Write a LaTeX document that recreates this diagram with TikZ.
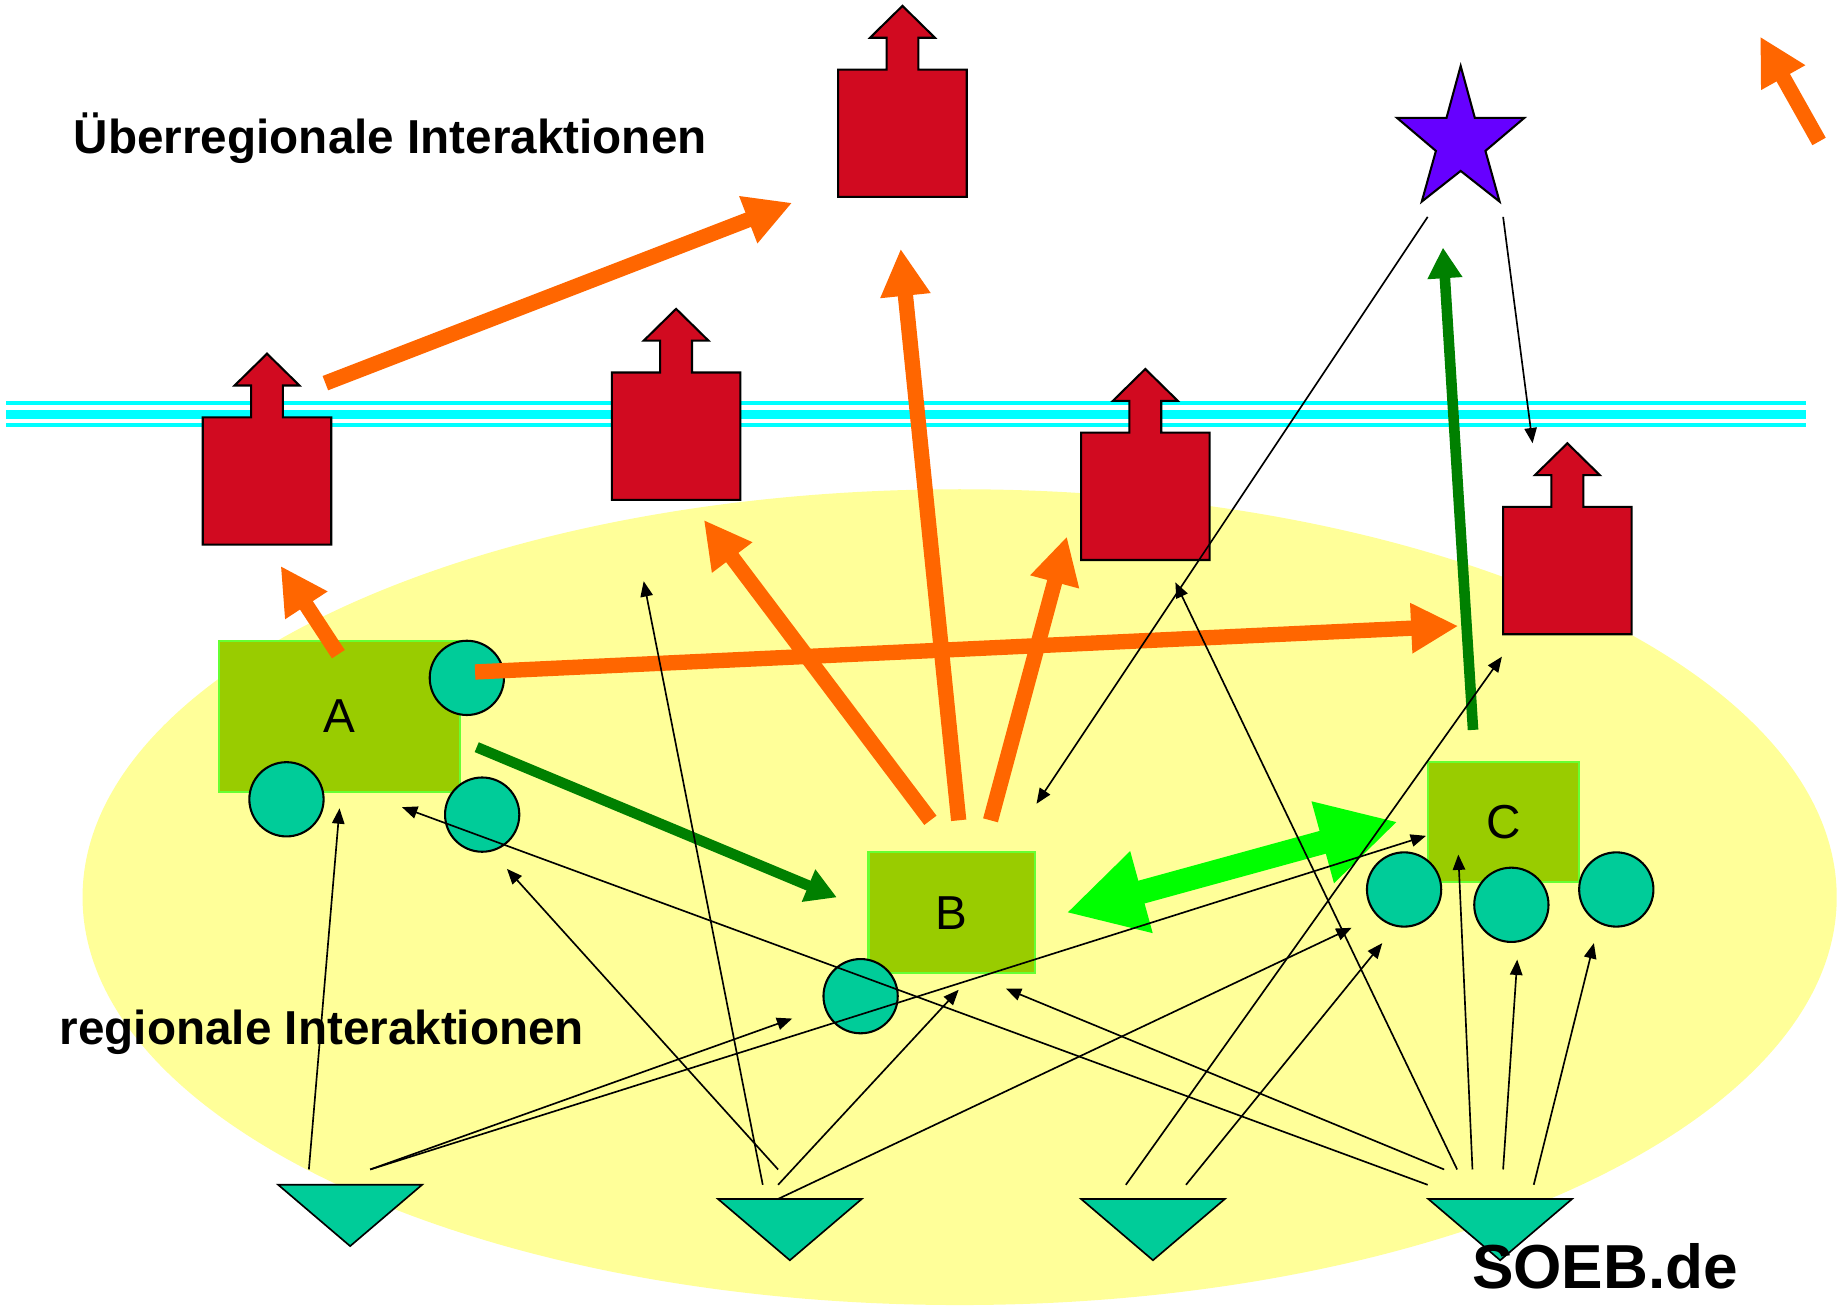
\documentclass[tikz,border=0pt]{standalone}
\usepackage{fontspec}
\setmainfont{Liberation Sans}
\usetikzlibrary{arrows.meta}
\usetikzlibrary{calc}

\definecolor{regionYellow}{HTML}{FFFF99}
\definecolor{borderCyan}{HTML}{00FFFF}
\definecolor{houseRed}{RGB}{209,10,32}
\definecolor{starPurple}{HTML}{6600FF}
\definecolor{flowOrange}{HTML}{FF6600}
\definecolor{flowGreen}{HTML}{008000}
\definecolor{swapGreen}{HTML}{00FF00}
\definecolor{actorGreen}{HTML}{99CC00}
\definecolor{actorEdge}{HTML}{66FF33}
\definecolor{firmTeal}{HTML}{00CC99}

\tikzset{
  house/.style={fill=houseRed, draw=black, line width=0.5pt},
  actor/.style={rectangle, fill=actorGreen, draw=actorEdge, line width=0.5pt, inner sep=0pt,
    font=\fontsize{11.5}{14}\selectfont},
  firm/.style={circle, fill=firmTeal, draw=black, line width=0.5pt, minimum size=6.3mm, inner sep=0pt},
  tri/.style={fill=firmTeal, draw=black, line width=0.4pt},
  title/.style={anchor=base west, inner sep=0pt, font=\fontsize{11.5}{14}\selectfont\bfseries},
  orangearrow/.style={draw=flowOrange, line width=1.3mm, -{Triangle[length=4mm,width=4mm]}},
  greenarrow/.style={draw=flowGreen, line width=0.9mm, -{Triangle[length=2.6mm,width=2.8mm]}},
  exchange/.style={draw=swapGreen, line width=2mm,
    {Triangle[length=6.6mm,width=6.7mm]}-{Triangle[length=6.6mm,width=6.7mm]}},
  link/.style={line width=0.4pt, -{Triangle[length=1.3mm,width=1.05mm]}}
}

\begin{document}
\begin{tikzpicture}[x=0.1mm, y=-0.1mm]
    \useasboundingbox (0,0) rectangle (1565,1108);

    % Region
    \fill[regionYellow] (814,761) ellipse [x radius=74.4mm, y radius=34.6mm];

    % Grenze
    \foreach \yy/\w in {341.8/0.36mm, 351.2/0.76mm, 360.7/0.36mm}
        \draw[borderCyan, line width=\w] (5.4,\yy) -- (1532,\yy);

    % Haeuser
    \foreach \nm/\x/\y in {h1/172/354, h2/519/316, h3/711/59, h4/917/367, h5/1275/430} {
        \coordinate (\nm) at (\x,\y);
        \filldraw[house] ($(\nm)+(0,108)$) -- ++(109,0) -- ++(0,-108) -- ++(-41,0) -- ++(0,-27)
            -- ++(14,0) -- ++(-27.5,-27) -- ++(-27.5,27) -- ++(14,0) -- ++(0,27) -- ++(-41,0) -- cycle;
    }

    % Stern
    \coordinate (star) at (1239,120);
    \filldraw[fill=starPurple, draw=black, line width=0.5pt] ($(star)+(0,-64)$) -- ++(12,44) -- ++(42,0)
        -- ++(-33,28) -- ++(12,43) -- ++(-33,-26) -- ++(-33,26) -- ++(12,-43) -- ++(-33,-28) -- ++(42,0) -- cycle;

    % Akteure
    \node[actor, minimum width=20.5mm, minimum height=12.8mm] (A) at (288,607.8) {A};
    \node[actor, minimum width=14.1mm, minimum height=10.3mm] (B) at (807.2,774.2) {B};
    \node[actor, minimum width=12.8mm, minimum height=10.2mm] (C) at (1275.5,697) {C};

    \foreach \nm/\x/\y in {a1/396/575, a2/243/678, a3/409/691, b1/730/845,
                            c1/1191/754.5, c2/1282/767.5, c3/1371/754.5}
        \node[firm] (\nm) at (\x,\y) {};

    \foreach \nm/\x/\y in {tri1/297/1005, tri2/670/1017, tri3/978/1017, tri4/1272.5/1017} {
        \coordinate (\nm) at (\x,\y);
        \filldraw[tri] ($(\nm)+(-61,0)$) -- ++(122,0) -- ++(-61,52) -- cycle;
    }

    \node[title] (ueber) at (62,130) {Überregionale Interaktionen};
    \node[title] (regio) at (50,886) {regionale Interaktionen};

    % dicke Pfeile
    \draw[orangearrow] ($(h1)+(104,-29)$) -- ($(h3)+(-39,113)$);
    \draw[orangearrow] ($(A.north)+(-1,12)$) -- ($(h1)+(66,126)$);
    \draw[orangearrow] ($(B.north)+(-18,-26)$) -- ($(h2)+(78,125)$);
    \draw[orangearrow] ($(B.north)+(6,-26)$) -- ($(h3)+(53,152)$);
    \draw[orangearrow] ($(B.north)+(33,-26)$) -- ($(h4)+(-12,88)$);
    \draw[orangearrow] ($(a1)+(7,-5)$) -- ($(h5)+(-38,101)$);
    \coordinate (o7s) at (1543,120);
    \coordinate (o7e) at (1493,31);
    \draw[orangearrow] (o7s) -- (o7e);

    \draw[greenarrow] ($(A.east)+(13,26)$) -- ($(B.west)+(-26,-13)$);
    \draw[greenarrow] ($(C.north)+(-26,-26)$) -- ($(star)+(-15,90)$);
    \draw[exchange] ($(B.east)+(26,0)$) -- ($(C.west)+(-25,0)$);

    % duenne Pfeile
    \draw[link] ($(tri1)+(-35,-13)$) -- ($(A.south)+(0,13)$);
    \draw[link] ($(tri1)+(17,-13)$) -- ($(b1)+(-58,19)$);
    \draw[link] ($(tri1)+(17,-13)$) -- ($(C.west)+(-1,12)$);
    \draw[link] ($(tri2)+(-10,-25)$) -- ($(a3)+(21,46)$);
    \draw[link] ($(tri2)+(-23,-12)$) -- ($(h2)+(27,177)$);
    \draw[link] ($(tri2)+(-10,-12)$) -- ($(B.south)+(6,13)$);
    \draw[link] ($(tri2)+(-10,0)$) -- ($(c1)+(-44.5,32.5)$);
    \draw[link] ($(tri3)+(-23,-12)$) -- ($(h5)+(-1,127)$);
    \draw[link] ($(tri3)+(28,-12)$) -- ($(c1)+(-18.5,45.5)$);
    \draw[link] ($(tri4)+(-61.5,-12)$) -- ($(A.south)+(53,12)$);
    \draw[link] ($(tri4)+(-47.5,-25)$) -- ($(B.south)+(46,12)$);
    \draw[link] ($(tri4)+(-36.5,-25)$) -- ($(h4)+(80,127)$);
    \draw[link] ($(tri4)+(-23.5,-25)$) -- ($(C.south)+(-38.5,-24)$);
    \draw[link] ($(tri4)+(2.5,-25)$) -- ($(c2)+(5,46.5)$);
    \draw[link] ($(tri4)+(28.5,-12)$) -- ($(c3)+(-19,45.5)$);
    \draw[link] ($(star)+(-28,64)$) -- ($(B.north)+(72,-40)$);
    \draw[link] ($(star)+(36,64)$) -- ($(h5)+(25,-54)$);

    \node[title, font=\fontsize{15}{18}\selectfont\bfseries] (soeb) at (1248,1093) {SOEB.de};
\end{tikzpicture}
\end{document}
